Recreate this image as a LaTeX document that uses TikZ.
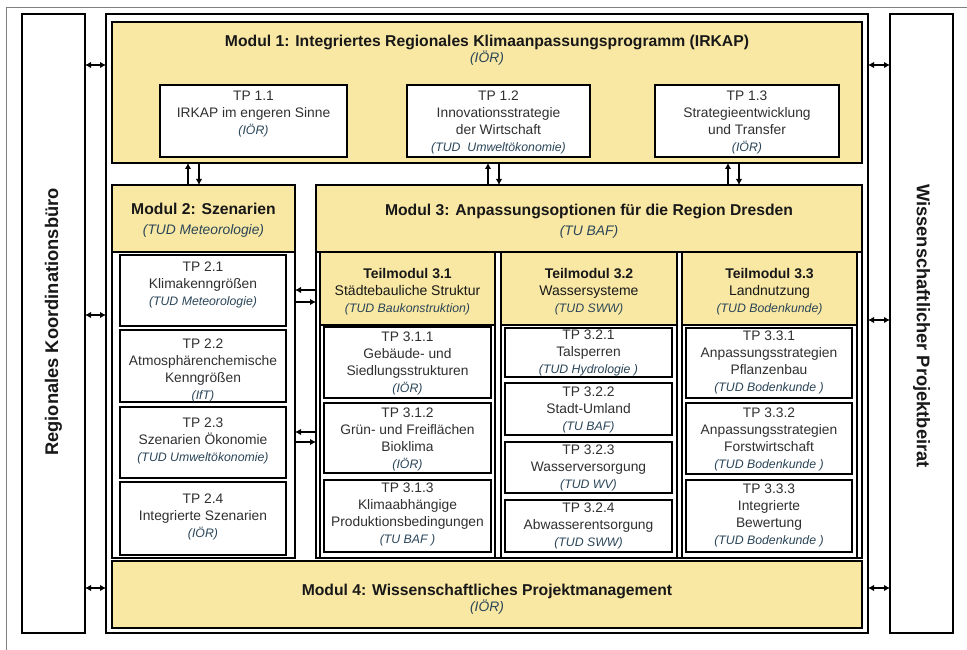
\documentclass[tikz,border=0pt]{standalone}
\usepackage{fontspec}
\setmainfont{Liberation Sans}
\usetikzlibrary{arrows.meta}
\definecolor{myyel}{HTML}{F9E8A3}
\definecolor{txtgray}{HTML}{303030}
\definecolor{ittxt}{HTML}{2A4558}
\definecolor{titletxt}{HTML}{181818}
\newcommand{\tpf}{\fontsize{13.8}{17}\selectfont}
\newcommand{\itx}[1]{{\color{ittxt}\itshape\fontsize{12.3}{17}\selectfont #1}}
\newcommand{\itxl}[1]{{\color{ittxt}\itshape\mdseries\fontsize{13.8}{17}\selectfont #1}}
\newcommand{\boxnode}[6]{%
  \node[#1, minimum width={#5-#3}, minimum height={#6-#4}] (#2) at ({(#3+#5)/2},{(#4+#6)/2}) {};}
\begin{document}
\begin{tikzpicture}[x=1pt,y=-1pt,
  frm/.style={draw=black, line width=2.6pt, inner sep=0pt, outer sep=0pt},
  ybox/.style={frm, fill=myyel},
  wbox/.style={frm, fill=white},
  tptext/.style={align=center, inner sep=0pt, text=txtgray, font=\tpf},
  title/.style={align=center, inner sep=0pt, text=titletxt, font=\bfseries\fontsize{15.7}{16}\selectfont},
  subtitle/.style={align=center, inner sep=0pt, text=titletxt, font=\fontsize{14}{17}\selectfont},
  side/.style={inner sep=0pt, text=titletxt, font=\bfseries\fontsize{18.3}{20}\selectfont},
  dar/.style={line width=1.8pt, {Latex[length=6pt,width=6.5pt]}-{Latex[length=6pt,width=6.5pt]}},
  sar/.style={line width=1.8pt, -{Latex[length=6pt,width=6.5pt]}}
]
\useasboundingbox (0,0) rectangle (967,650);
\fill[white] (0,0) rectangle (967,650);
\draw[gray, line width=0.8pt] (6,650) -- (6,7) -- (967,7);

% side boxes and main container
\boxnode{wbox}{koord}{22}{14}{85}{633}
\boxnode{wbox}{beirat}{890}{14}{953}{633}
\boxnode{wbox}{main}{106}{14}{868}{633}
\node[side, rotate=90] (koordt) at (53.5,322) {Regionales Koordinationsbüro};
\node[side, rotate=-90] (beiratt) at (921.5,326) {Wissenschaftlicher Projektbeirat};

% Modul 1
\boxnode{ybox}{m1}{112}{22}{862}{163}
\node[title] (m1t) at (487,50) {Modul 1: Integriertes Regionales Klimaanpassungsprogramm (IRKAP)\\\itxl{(IÖR)}};
\boxnode{wbox}{tp11}{160}{85}{347}{157}
\boxnode{wbox}{tp12}{407}{85}{590}{157}
\boxnode{wbox}{tp13}{655}{85}{839}{157}
\node[tptext] (tp11t) at (253.5,114) {TP 1.1\\IRKAP im engeren Sinne\\\itx{(IÖR)}};
\node[tptext] (tp12t) at (498.5,122) {TP 1.2\\Innovationsstrategie\\der Wirtschaft\\\itx{(TUD\ \ Umweltökonomie)}};
\node[tptext] (tp13t) at (747,122) {TP 1.3\\Strategieentwicklung\\und Transfer\\\itx{(IÖR)}};

% Modul 2
\boxnode{wbox}{m2}{112}{185}{295}{558}
\boxnode{ybox}{m2h}{112}{185}{295}{252}
\node[title] (m2t) at (203.5,220) {Modul 2: Szenarien\\[4pt]\itxl{(TUD Meteorologie)}};
\boxnode{wbox}{tp21}{120}{255}{286}{326}
\boxnode{wbox}{tp22}{120}{330}{286}{402}
\boxnode{wbox}{tp23}{120}{407}{286}{478}
\boxnode{wbox}{tp24}{120}{482}{286}{555}
\node[tptext] (tp21t) at (203,285) {TP 2.1\\Klimakenngrößen\\\itx{(TUD Meteorologie)}};
\node[tptext] (tp22t) at (203,370) {TP 2.2\\Atmosphärenchemische\\Kenngrößen\\\itx{(IfT)}};
\node[tptext] (tp23t) at (203,441) {TP 2.3\\Szenarien Ökonomie\\\itx{(TUD Umweltökonomie)}};
\node[tptext] (tp24t) at (203,517) {TP 2.4\\Integrierte Szenarien\\\itx{(IÖR)}};

% Modul 3
\boxnode{wbox}{m3}{316}{185}{862}{558}
\boxnode{ybox}{m3h}{316}{185}{862}{252}
\node[title] (m3t) at (589,221) {Modul 3: Anpassungsoptionen für die Region Dresden\\[4pt]\itxl{(TU BAF)}};

\boxnode{wbox}{t31}{320}{252}{495}{558}
\boxnode{ybox}{t31h}{320}{252}{495}{325}
\boxnode{wbox}{t32}{501}{252}{677}{558}
\boxnode{ybox}{t32h}{501}{252}{677}{325}
\boxnode{wbox}{t33}{682}{252}{857}{558}
\boxnode{ybox}{t33h}{682}{252}{857}{325}
\node[subtitle] (t31t) at (407.5,292) {\textbf{Teilmodul 3.1}\\Städtebauliche Struktur\\\itx{(TUD Baukonstruktion)}};
\node[subtitle] (t32t) at (589,292) {\textbf{Teilmodul 3.2}\\Wassersysteme\\\itx{(TUD SWW)}};
\node[subtitle] (t33t) at (769.5,292) {\textbf{Teilmodul 3.3}\\Landnutzung\\\itx{(TUD Bodenkunde)}};

\boxnode{wbox}{tp311}{324}{327}{491}{398}
\boxnode{wbox}{tp312}{324}{403}{491}{473}
\boxnode{wbox}{tp313}{324}{480}{491}{552}
\node[tptext] (tp311t) at (407.5,363) {TP 3.1.1\\Gebäude- und\\Siedlungsstrukturen\\\itx{(IÖR)}};
\node[tptext] (tp312t) at (407.5,439) {TP 3.1.2\\Grün- und Freiflächen\\Bioklima\\\itx{(IÖR)}};
\node[tptext] (tp313t) at (407.5,514) {TP 3.1.3\\Klimaabhängige\\Produktionsbedingungen\\\itx{(TU BAF )}};

\boxnode{wbox}{tp321}{505}{328}{672}{377}
\boxnode{wbox}{tp322}{505}{383}{672}{435}
\boxnode{wbox}{tp323}{505}{442}{672}{493}
\boxnode{wbox}{tp324}{505}{500}{672}{552}
\node[tptext] (tp321t) at (588.5,353) {TP 3.2.1\\Talsperren\\\itx{(TUD Hydrologie )}};
\node[tptext] (tp322t) at (588.5,410) {TP 3.2.2\\Stadt-Umland\\\itx{(TU BAF)}};
\node[tptext] (tp323t) at (588.5,468) {TP 3.2.3\\Wasserversorgung\\\itx{(TUD WV)}};
\node[tptext] (tp324t) at (588.5,526) {TP 3.2.4\\Abwasserentsorgung\\\itx{(TUD SWW)}};

\boxnode{wbox}{tp331}{686}{328}{852}{398}
\boxnode{wbox}{tp332}{686}{403}{852}{474}
\boxnode{wbox}{tp333}{686}{480}{852}{552}
\node[tptext] (tp331t) at (769,362) {TP 3.3.1\\Anpassungsstrategien\\Pflanzenbau\\\itx{(TUD Bodenkunde )}};
\node[tptext] (tp332t) at (769,439) {TP 3.3.2\\Anpassungsstrategien\\Forstwirtschaft\\\itx{(TUD Bodenkunde )}};
\node[tptext] (tp333t) at (769,515) {TP 3.3.3\\Integrierte\\Bewertung\\\itx{(TUD Bodenkunde )}};

% Modul 4
\boxnode{ybox}{m4}{112}{561}{862}{628}
\node[title] (m4t) at (487,599) {Modul 4: Wissenschaftliches Projektmanagement\\\itxl{(IÖR)}};

% connector coordinates
\coordinate (ha) at (0,65);
\coordinate (hb) at (0,315);
\coordinate (hc) at (0,588);
\coordinate (hd) at (0,320);
\coordinate (h1) at (0,290);
\coordinate (h2) at (0,302);
\coordinate (h3) at (0,432);
\coordinate (h4) at (0,442);
\coordinate (v1) at (188,0);
\coordinate (v2) at (199,0);
\coordinate (v3) at (488,0);
\coordinate (v4) at (499,0);
\coordinate (v5) at (728,0);
\coordinate (v6) at (739,0);

% side arrows
\draw[dar] (koord.east |- ha) -- (main.west |- ha);
\draw[dar] (koord.east |- hb) -- (main.west |- hb);
\draw[dar] (koord.east |- hc) -- (main.west |- hc);
\draw[dar] (main.east |- ha) -- (beirat.west |- ha);
\draw[dar] (main.east |- hd) -- (beirat.west |- hd);
\draw[dar] (main.east |- hc) -- (beirat.west |- hc);

% vertical arrows Modul 1 <-> Modul 2/3
\draw[sar] (m2.north -| v1) -- (m1.south -| v1);
\draw[sar] (m1.south -| v2) -- (m2.north -| v2);
\draw[sar] (m3.north -| v3) -- (m1.south -| v3);
\draw[sar] (m1.south -| v4) -- (m3.north -| v4);
\draw[sar] (m3.north -| v5) -- (m1.south -| v5);
\draw[sar] (m1.south -| v6) -- (m3.north -| v6);

% horizontal arrows Modul 2 <-> Modul 3
\draw[sar] (m3.west |- h1) -- (m2.east |- h1);
\draw[sar] (m2.east |- h2) -- (m3.west |- h2);
\draw[sar] (m3.west |- h3) -- (m2.east |- h3);
\draw[sar] (m2.east |- h4) -- (m3.west |- h4);
\end{tikzpicture}
\end{document}
